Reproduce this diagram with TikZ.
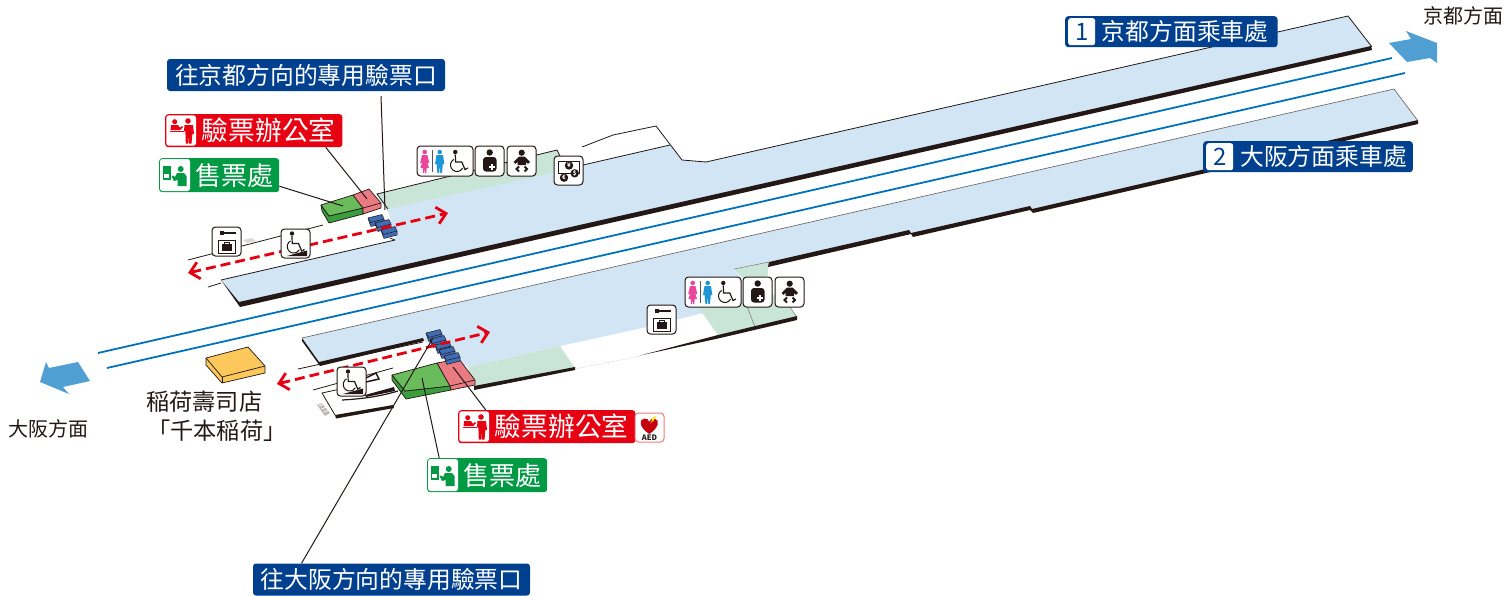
\documentclass[tikz,border=0pt]{standalone}
\usepackage{fontspec}
\setmainfont{Noto Sans CJK TC}
\usetikzlibrary{arrows.meta}

\definecolor{inkblack}{HTML}{231815}
\definecolor{platblue}{HTML}{D2E5F5}
\definecolor{concourse}{HTML}{C9E5D8}
\definecolor{tracklin}{HTML}{0072BC}
\definecolor{dirblue}{HTML}{4F9FD3}
\definecolor{navylbl}{HTML}{00408F}
\definecolor{redlbl}{HTML}{E60012}
\definecolor{greenlbl}{HTML}{009944}
\definecolor{officetop}{HTML}{6ABB5C}
\definecolor{officefront}{HTML}{3A9D3E}
\definecolor{staffpink}{HTML}{EA7B82}
\definecolor{gatefill}{HTML}{3F6DB5}
\definecolor{shopfill}{HTML}{FCC75B}
\definecolor{ladypink}{HTML}{E9489A}
\definecolor{manblue}{HTML}{1D97D4}

\tikzset{
  platedge/.style={draw=inkblack,line width=.8pt},
  officebox/.style={draw=inkblack,line width=.7pt,line join=round},
  gatebox/.style={draw=inkblack,fill=gatefill,line width=.5pt,line join=round},
  leader/.style={draw=inkblack,line width=1pt},
  trackline/.style={draw=tracklin,line width=1.8pt},
  reddash/.style={draw=redlbl,line width=2.8pt,dash pattern=on 10pt off 5pt,
    >={Straight Barb[length=9pt,width=17pt,line width=2.8pt]}},
  iconbase/.style={draw=inkblack,fill=white,rounded corners=3.5pt,line width=1pt},
  navylabel/.style={fill=navylbl,text=white,rounded corners=3pt,inner ysep=0pt,
    font=\fontsize{23.8}{28}\selectfont,minimum height=32pt},
  iconlabel/.style={text=white,rounded corners=3pt,inner xsep=4pt,inner ysep=0pt,anchor=north west,
    execute at begin node=\hspace*{32.7pt}},
  redlabel/.style={iconlabel,fill=redlbl,font=\fontsize{26.7}{30}\selectfont,minimum height=33pt,
    execute at end node=\hspace*{3pt}},
  greenlabel/.style={iconlabel,fill=greenlbl,font=\fontsize{26}{30}\selectfont,minimum height=34pt,
    execute at end node=\hspace*{1.3pt}},
  numbox/.style={fill=white,text=navylbl,rounded corners=2.5pt,inner sep=0pt,
    minimum width=27pt,minimum height=27pt,font=\fontsize{24}{26}\selectfont},
  placelabel/.style={text=inkblack,inner sep=0pt,font=\fontsize{#1}{#1}\selectfont},
  wheelglyph/.pic={
    \fill[inkblack] (0,0) circle (2.2);
    \draw[inkblack,line width=1.2pt] (0,2.5) -- (0.2,10) -- (6.5,10) -- (9.7,17.5) -- (12.5,16);
    \draw[inkblack,line width=1pt] (-1.55,7.4) arc[start angle=120,end angle=330,radius=6.5pt];
  },
  toileticon/.pic={
    \draw[iconbase] (0,0) rectangle (56,30);
    \fill[ladypink] (7.7,6) circle (2.3);
    \fill[ladypink] (5,9) -- (10.4,9) -- (12.3,17) -- (10.4,17) -- (12,22) -- (9.6,22) -- (9.4,27)
      -- (8.2,27) -- (7.7,22) -- (7.2,27) -- (6,27) -- (5.8,22) -- (3.4,22) -- (5,17) -- (3.2,17) -- cycle;
    \draw[inkblack,line width=1pt,draw=inkblack!75] (15,4) -- (15,26);
    \fill[manblue] (22.7,6) circle (2.3);
    \fill[manblue] (19.5,9) -- (26,9) -- (27.3,18) -- (25.8,18) -- (25,27) -- (23.3,27) -- (22.8,19)
      -- (22.2,27) -- (20.4,27) -- (19.6,18) -- (18,18) -- cycle;
    \pic at (38.3,6) {wheelglyph};
  },
  rampicon/.pic={
    \draw[iconbase] (0,0) rectangle (29,29);
    \pic at (11,4.5) {wheelglyph};
    \fill[inkblack] (6,27) -- (26,21.5) -- (26,27) -- cycle;
  },
  lockericon/.pic={
    \draw[iconbase] (0,0) rectangle (29,29);
    \fill[inkblack] (8,3.5) rectangle (12,8);
    \fill[inkblack] (12,5) -- (24,5) -- (24,7) -- (12,7) -- cycle;
    \draw[inkblack,line width=.8pt] (6,13) rectangle (23,26);
    \fill[inkblack] (10,17) rectangle (20,24);
    \draw[inkblack,line width=.8pt] (12.5,17) -- (12.5,15) -- (17.5,15) -- (17.5,17);
  },
  nurseicon/.pic={
    \draw[iconbase] (0,0) rectangle (29,30);
    \fill[inkblack] (14.7,6.5) circle (3.2);
    \fill[inkblack,rounded corners=3pt] (8,25.5) -- (8,11) -- (21.5,11) -- (21.5,25.5) -- cycle;
    \fill[white] (15.7,18) rectangle (18.3,24);
    \fill[white] (14,19.7) rectangle (20,22.3);
  },
  babyicon/.pic={
    \draw[iconbase] (0,0) rectangle (29,30);
    \fill[inkblack] (14.7,6.7) circle (3.1);
    \fill[inkblack] (12,10.5) -- (17.5,10.5) -- (23,16) -- (21,17.8) -- (19,16) -- (19,19) -- (10.5,19)
      -- (10.5,16) -- (8.5,17.8) -- (6.5,16) -- cycle;
    \draw[inkblack,line width=2pt] (12,20.5) -- (9.5,23) -- (12,25.5);
    \draw[inkblack,line width=2pt] (17.5,20.5) -- (20,23) -- (17.5,25.5);
  },
  moneyicon/.pic={
    \draw[iconbase] (0,0) rectangle (29,29);
    \draw[inkblack,line width=1pt] (4,5.7) rectangle (25.7,17);
    \foreach \cx/\cy/\ctext in {15/9.5/¥,20.7/17.3/\$,10/21.7/€} {
      \node[circle,fill=inkblack,text=white,inner sep=0pt,minimum size=8.4pt,
        font=\bfseries\fontsize{6}{6}\selectfont] (coin) at (\cx,\cy) {\ctext};
    }
  },
  staffglyph/.pic={
    \fill[white,rounded corners=2.5pt] (1.3,1.3) rectangle (31,31.7);
    \fill[redlbl] (23,7) circle (2.8);
    \fill[redlbl] (19.5,11) -- (28,11) -- (29,20) -- (27.4,20) -- (26.5,29.5) -- (24,29.5) -- (23.6,21)
      -- (23.2,29.5) -- (20.8,29.5) -- (20.4,17.4) -- (19,17.4) -- cycle;
    \fill[redlbl] (9.7,7.7) circle (2.5);
    \fill[redlbl] (5.6,16.2) -- (6,11) -- (13,11) -- (15,13.8) -- (17,12) -- (18,13) -- (15,16.2) -- cycle;
    \fill[redlbl] (4.5,17) rectangle (19,18.2);
  },
  ticketglyph/.pic={
    \fill[white,rounded corners=2.5pt] (1,1) rectangle (31,33);
    \draw[greenlbl,line width=1.2pt] (4.5,9) rectangle (11,21);
    \fill[greenlbl] (4.5,9) rectangle (11,16);
    \fill[greenlbl] (21.7,11) circle (3);
    \fill[greenlbl] (18,15) -- (25,15) -- (27.5,18) -- (27.5,28) -- (18.5,28) -- (18.5,22) -- (15,23)
      -- (12.5,18) -- (14.5,17.5) -- (16,19) -- cycle;
  },
  aedicon/.pic={
    \draw[iconbase,draw=staffpink] (0,0) rectangle (29,29);
    \fill[redlbl!85!black] (14.3,21) .. controls (5,15) and (3,7) .. (9,5.5)
      .. controls (12,5) and (14,7) .. (14.3,9) .. controls (14.6,7) and (17,5) .. (19.5,5.5)
      .. controls (25.5,7) and (23.5,15) .. (14.3,21);
    \fill[yellow!90!orange] (15,11) -- (18,7.5) -- (17.8,9) -- (21.5,3) -- (20,4.5) -- (20,2.5) -- (16.5,7) -- (16.8,8) -- cycle;
    \node[text=inkblack,inner sep=0pt,font=\bfseries\fontsize{7.5}{8}\selectfont] (aedtext) at (14.5,24.8) {AED};
  }
}

\begin{document}
\begin{tikzpicture}[x=1pt,y=-1pt,line cap=butt]
    \useasboundingbox (0,0) rectangle (1510,595);

    % platform of line 1
    \fill[concourse] (377,194) -- (557,150) -- (562,160) -- (553,176) -- (388,212) -- cycle;
    \fill[platblue] (221,280) -- (395,240) -- (388,209) -- (553,173) -- (583,165) -- (670,145)
      -- (682,160) -- (706,162) -- (1348,16) -- (1372,47) -- (238,303) -- cycle;
    \fill[inkblack] (221,280) -- (239,302) -- (1371,46) -- (1372,50) -- (240,307) -- cycle;
    \draw[platedge] (706,162) -- (1348,16) -- (1372,47);
    \draw[platedge] (208,287) -- (221,283);
    \draw[platedge] (221,280) -- (395,240);
    \draw[platedge] (395,240) -- (390,238);
    \draw[platedge] (388,209) -- (377,194) -- (557,150) -- (562,160);
    \draw[platedge] (583,165) -- (670,145);
    \draw[platedge] (582,147) -- (613,135) -- (656,126) -- (682,160) -- (706,162);
    \draw[platedge] (188,260) -- (323,225);

    % stairs next to the left end of line 1
    \fill[gray!30] (243,240) -- (252,238) -- (256,241) -- (247,243) -- cycle;

    % platform of line 2
    \fill[platblue] (302,338) -- (1394,89) -- (1418,121) -- (1032,209) -- (1030,206) -- (911,233)
      -- (909,230) -- (769,262) -- (734,269) -- (760,305) -- (703,313) -- (647,327) -- (560,346)
      -- (468,367) -- (423,340) -- (319,363) -- cycle;
    \fill[concourse] (468,367) -- (560,346) -- (575,368) -- (474,388) -- cycle;
    \fill[concourse] (734,269) -- (769,262) -- (766,290) -- (787,303) -- (797,317) -- (718,335) -- (698,307) -- (760,298) -- cycle;
    \draw[inkblack!60,line width=.5pt] (734,269) -- (769,262);
    \draw[inkblack!60,line width=.5pt] (743,296) -- (755,327);
    \draw[inkblack!60,line width=.5pt] (787,303) -- (797,317);
    \fill[inkblack] (769,262) -- (909,230) -- (911,233) -- (1030,206) -- (1032,209) -- (1418,120)
      -- (1418,124) -- (1033,213) -- (1030,210) -- (913,237) -- (911,234) -- (768,267) -- cycle;
    \draw[inkblack!70,line width=.6pt] (302,338) -- (1394,89) -- (1418,121);
    \fill[inkblack] (302,338) -- (319,362) -- (423,338) -- (424,341) -- (320,366) -- (302,341) -- cycle;
    \fill[inkblack] (474,386) -- (575,367) -- (575,370) -- (474,390) -- cycle;
    \fill[inkblack] (640,355.5) -- (718,335) -- (797,316) -- (797,320) -- (718,338.5) -- cycle;
    \draw[inkblack!40,line width=.4pt,densely dotted] (575,369) -- (640,356);
    \draw[platedge] (298,369) -- (423,342);

    % stairs and passages on the lower left
    \fill[inkblack!30] (317,405) -- (322,403) -- (330,413) -- (325,416) -- cycle;
    \foreach \s in {0,1,2} {
      \draw[white,line width=.8pt] (319+\s*2.5,406+\s*3) -- (324+\s*2.5,404+\s*3);
    }
    \draw[platedge] (322,393) -- (335,415);
    \draw[platedge] (322,393) -- (345,388);
    \draw[platedge] (313,390) -- (393,368);
    \draw[inkblack,line width=1.5pt] (366,378) -- (376,373) -- (379,379) -- (366,382);
    \fill[inkblack] (335,415) -- (393,405) -- (394,408) -- (336,418.5) -- cycle;
    \draw[inkblack,line width=1.2pt] (342,400) .. controls (360,399) and (378,397) .. (398,391);
    \fill[inkblack] (365,395) -- (394,387) -- (395,391) -- (366,397) -- cycle;

    % sushi shop
    \fill[shopfill,officebox] (206,358) -- (248,347) -- (265,366) -- (265,373) -- (222,383) -- (206,365) -- cycle;
    \draw[officebox] (206,358) -- (222,377) -- (265,366);
    \draw[officebox] (222,377) -- (222,383);

    % offices on line 1
    \fill[officefront,officebox] (321,205) -- (322,211) -- (329,223) -- (363,214) -- (363,208) -- (329,216) -- cycle;
    \fill[officetop,officebox] (321,205) -- (353,195) -- (363,208) -- (329,216) -- cycle;
    \fill[staffpink,officebox] (353,195) -- (369,189) -- (381,203) -- (381,208) -- (363,214) -- (363,208) -- cycle;
    \draw[officebox] (363,208) -- (381,203);

    % offices on line 2
    \fill[officefront,officebox] (392,375) -- (392,380) -- (406,399) -- (451,390) -- (450,386) -- (405,391) -- cycle;
    \fill[officetop,officebox] (392,375) -- (437,363) -- (450,386) -- (405,391) -- cycle;
    \fill[staffpink,officebox] (437,363) -- (459,359) -- (475,380) -- (475,385) -- (451,390) -- (450,386) -- cycle;
    \draw[officebox] (450,386) -- (475,380);

    % ticket gates
    \foreach \gx/\gy in {368/218,375/223,381/230,426/333,430/339,435/345,439/350,444/356} {
      \draw[gatebox,shift={(\gx,\gy)}] (0,0) -- (14,-3.5) -- (16,1) -- (16,5) -- (3,8.5) -- (1.5,5) -- cycle;
      \draw[gatebox,fill=none,shift={(\gx,\gy)}] (0,0) -- (2.5,4.5) -- (16,1);
    }

    % tracks
    \coordinate (trackUpL) at (98,353);
    \coordinate (trackUpR) at (1392,58);
    \coordinate (trackLoL) at (107,368);
    \coordinate (trackLoR) at (1405,73);
    \draw[trackline] (trackUpL) -- (trackUpR);
    \draw[trackline] (trackLoL) -- (trackLoR);

    % direction arrows
    \fill[dirblue] (1389,43) -- (1411,39) -- (1406,31) -- (1437,43) -- (1437,63) -- (1430,58) -- (1407,62) -- cycle;
    \fill[dirblue] (90,381) -- (78,362) -- (49,368) -- (46,362) -- (40,382) -- (69,394) -- (63,387) -- cycle;

    % walkways
    \coordinate (walkUpL) at (188,273);
    \coordinate (walkUpR) at (448,213);
    \coordinate (walkLoL) at (277,384);
    \coordinate (walkLoR) at (490,332);
    \draw[reddash,<->] (walkUpL) -- (walkUpR);
    \draw[reddash,<->] (walkLoL) -- (walkLoR);

    % labels
    \node[navylabel,minimum width=278pt,anchor=center] (gateKyoto) at (306,75) {往京都方向的專用驗票口};
    \node[navylabel,minimum width=277pt,anchor=center] (gateOsaka) at (391.5,579.5) {往大阪方向的專用驗票口};
    \node[redlabel] (staffUp) at (165,114) {驗票辦公室};
    \node[greenlabel] (ticketUp) at (159,158) {售票處};
    \node[redlabel] (staffLo) at (458,410) {驗票辦公室};
    \node[greenlabel] (ticketLo) at (427,458) {售票處};
    \node[navylabel,anchor=north west,minimum height=31pt,inner xsep=4pt] (lineOne) at (1065,16) {\hspace*{32.7pt}京都方面乘車處\hspace*{5pt}};
    \node[navylabel,anchor=north west,minimum height=31pt,inner xsep=3pt] (lineTwo) at (1203,141) {\hspace*{34pt}大阪方面乘車處\hspace*{3pt}};
    \node[numbox,anchor=west] (numOne) at ([xshift=3pt]lineOne.west) {1};
    \node[numbox,anchor=west] (numTwo) at ([xshift=3pt]lineTwo.west) {2};
    \pic at (staffUp.north west) {staffglyph};
    \pic at (staffLo.north west) {staffglyph};
    \pic at (ticketUp.north west) {ticketglyph};
    \pic at (ticketLo.north west) {ticketglyph};

    % leaders from the labels
    \coordinate (gatesUp) at (385,210);
    \coordinate (gatesLo) at (433,338);
    \coordinate (officeUpR) at (367,199);
    \coordinate (officeUpG) at (343,206);
    \coordinate (officeLoR) at (453,367);
    \coordinate (officeLoG) at (422,378);
    \draw[leader] ([xshift=75pt]gateKyoto.south) ++(0,5) -- (gatesUp);
    \draw[leader] ([xshift=-90pt]gateOsaka.north) -- (gatesLo);
    \draw[leader] ([xshift=72pt]staffUp.south) -- (officeUpR);
    \draw[leader] (ticketUp.east) ++(0,11) -- (officeUpG);
    \draw[leader] ([xshift=-61pt]staffLo.north) -- (officeLoR);
    \draw[leader] ([xshift=-48pt]ticketLo.north) -- (officeLoG);

    % pictograms
    \pic at (417,146) {toileticon};
    \pic at (475,146) {nurseicon};
    \pic at (507,146) {babyicon};
    \pic at (554,156) {moneyicon};
    \pic at (212,227) {lockericon};
    \pic at (281,229) {rampicon};
    \pic at (685,277) {toileticon};
    \pic at (743,277) {nurseicon};
    \pic at (775,277) {babyicon};
    \pic at (647,305) {lockericon};
    \pic at (337,367) {rampicon};
    \pic at (635,413) {aedicon};

    % place names
    \node[placelabel=20,anchor=north west] (toKyoto) at (1423,6) {京都方面};
    \node[placelabel=20,anchor=north west] (toOsaka) at (8,419) {大阪方面};
    \node[placelabel=23.2,anchor=west,align=left] (sushiShop) at (146,416) {稲荷壽司店\\[6pt]\hspace*{1pt}「千本稲荷」};
\end{tikzpicture}
\end{document}
